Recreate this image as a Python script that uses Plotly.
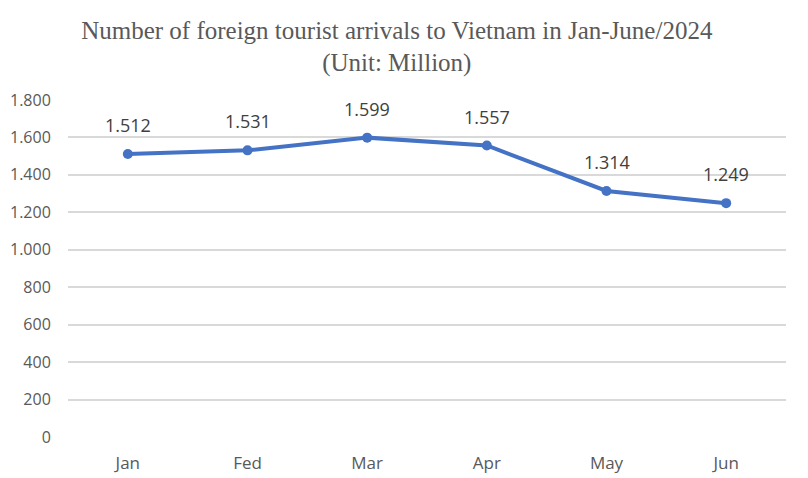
import plotly.graph_objects as go

months = ["Jan", "Fed", "Mar", "Apr", "May", "Jun"]
arrivals = [1512, 1531, 1599, 1557, 1314, 1249]
y_ticks = [0, 200, 400, 600, 800, 1000, 1200, 1400, 1600, 1800]

label_font = dict(family="Open Sans, Noto Sans, sans-serif", size=18, color="#404040")

fig = go.Figure()
fig.add_trace(go.Scatter(
    x=months, y=arrivals, mode="lines+markers",
    line=dict(color="#4472C4", width=4),
    marker=dict(color="#4472C4", size=10),
    cliponaxis=False, hoverinfo="skip",
))
for m, v in zip(months, arrivals):
    fig.add_annotation(
        x=m, y=v, xref="x", yref="y", text=f"{v:,}".replace(",", "."),
        showarrow=False, yanchor="bottom", yshift=15, font=label_font,
    )

# page body has an 8px margin; figure is sized/offset to compensate
fig.update_layout(
    width=800, height=470,
    separators=",.",
    paper_bgcolor="white", plot_bgcolor="white",
    margin=dict(l=60, r=22, t=92, b=41),
    showlegend=False,
    title=dict(
        text="Number of foreign tourist arrivals to Vietnam in Jan-June/2024<br>(Unit: Million)",
        x=0.486, xanchor="center", y=0.935, yanchor="top",
        font=dict(family="Liberation Serif, Times New Roman, serif", size=25, color="#595959"),
        automargin=False,
    ),
    font=dict(family="Open Sans, Noto Sans, sans-serif", size=17, color="#595959"),
)
fig.update_xaxes(
    range=[-0.5, 5.5], automargin=False,
    showgrid=False, showline=False, zeroline=False,
    ticks="outside", ticklen=11, tickcolor="rgba(0,0,0,0)",
    tickfont=dict(size=17, color="#595959"),
)
fig.update_yaxes(
    range=[0, 1800], tickvals=y_ticks, tickformat=",d", automargin=False,
    showgrid=True, gridcolor="#d9d9d9", gridwidth=1.5,
    zeroline=False, showline=False,
    ticks="outside", ticklen=13, tickcolor="rgba(0,0,0,0)",
    tickfont=dict(size=16, color="#595959"),
)
fig.write_html("out.html")
